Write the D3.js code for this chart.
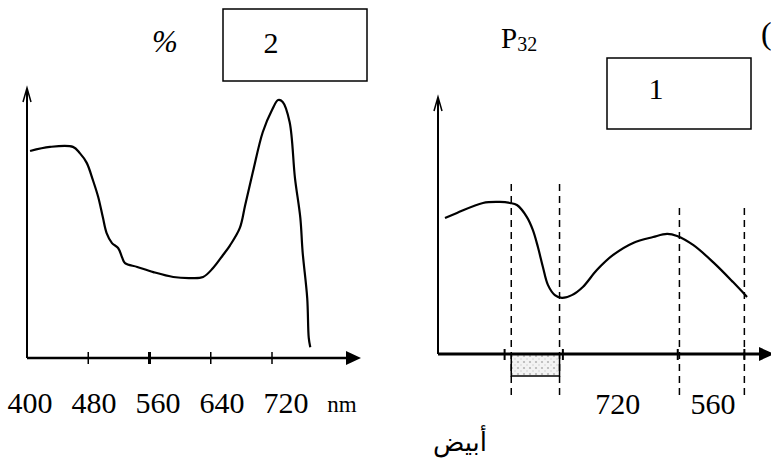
<!DOCTYPE html>
<html>
<head>
<meta charset="utf-8">
<script src="https://cdn.jsdelivr.net/npm/d3@7/dist/d3.min.js"></script>
<style>
body { margin: 0; background: white; }
</style>
</head>
<body>
<script>

var width = 771,
    height = 460;

// left chart (box 2) : percent vs wavelength
var waveNm  = [404, 430, 460, 469, 478, 486, 493, 499, 504, 511, 519, 524, 528, 544, 565,
               591, 613, 630, 643, 656, 665, 678, 685, 695, 708, 720, 728, 734, 743,
               750, 757, 760, 766, 768, 770];
var percent = [76.4, 77.9, 77.9, 75.6, 72, 65.7, 59.4, 52, 46.1, 42.4, 40.6, 37.3, 35, 33.6, 31.7,
               29.9, 29.5, 29.9, 33.2, 38, 41.5, 48, 56.5, 68.6, 83.4, 91.5, 95.2, 94.5, 87.1,
               66.4, 51.7, 39.1, 22.1, 7.4, 4];
var leftTicks  = [480, 560, 640, 720];
var leftLabels = ["400", "480", "560", "640", "720"];

// right chart (box 1)
var pos    = [2.1, 5.7, 13.5, 18.6, 21.6, 23.7, 26.7, 28.5, 30, 31.5, 33, 35.1, 37.2,
              40.2, 43.5, 47.7, 52.6, 58.6, 64.6, 68.8, 71.8, 76.6, 82.6, 88.6, 92.8];
var absorb = [53.1, 55.1, 59, 59.4, 59, 58.2, 53.5, 48.4, 41.8, 34, 27, 23, 21.9,
              23, 26.2, 32.8, 38.7, 43.4, 45.7, 46.9, 46.1, 42.6, 35.9, 28.1, 22.3];
var rightTicks     = [20, 37.5, 72, 92];
var dashPos        = [22, 36.5, 72.5, 92];
var whiteBand      = [22, 36.5];
var rightLabels    = ["720", "560"];
var rightLabelPos  = [54, 82.6];

var serif = "'Liberation Serif', 'Times New Roman', serif";

var svg = d3.select("body")
            .append("svg")
            .attr("width", width)
            .attr("height", height)
            .style("background", "white");

var defs = svg.append("defs");
var pat = defs.append("pattern")
              .attr("id", "dots")
              .attr("width", 6)
              .attr("height", 6)
              .attr("patternUnits", "userSpaceOnUse");
pat.append("rect").attr("width", 6).attr("height", 6).attr("fill", "#f3f3f3");
pat.append("circle").attr("cx", 2).attr("cy", 2).attr("r", 1.1).attr("fill", "#b5b5b5");
pat.append("circle").attr("cx", 5).attr("cy", 5).attr("r", 0.8).attr("fill", "#cfcfcf");

function upArrow(g, x, y) {
  g.append("path")
   .attr("d", "M" + (x - 4) + "," + (y + 14) + "L" + x + "," + y + "L" + (x + 4) + "," + (y + 14))
   .attr("fill", "none")
   .attr("stroke", "black")
   .attr("stroke-width", 1.5);
}

function rightArrow(g, x, y) {
  g.append("path")
   .attr("d", "M" + (x - 15) + "," + (y - 7) + "L" + x + "," + y + "L" + (x - 15) + "," + (y + 7) + "Z")
   .attr("fill", "black");
}

// ---------- left chart ----------
var xL = d3.scaleLinear().domain([400, 720]).range([27, 272]);
var yL = d3.scaleLinear().domain([0, 100]).range([358, 87]);
var labelL = d3.scalePoint().domain(leftLabels).range([30, 286]);

var left = svg.append("g");

left.append("line")
    .attr("x1", xL(400)).attr("x2", xL(400))
    .attr("y1", yL(0)).attr("y2", 90)
    .attr("stroke", "black").attr("stroke-width", 2);
upArrow(left, xL(400), 88);

left.append("line")
    .attr("x1", xL(400)).attr("x2", 350)
    .attr("y1", yL(0)).attr("y2", yL(0))
    .attr("stroke", "black").attr("stroke-width", 2.5);
rightArrow(left, 361, yL(0));

left.selectAll(".tick")
    .data(leftTicks)
    .enter()
    .append("line")
    .attr("x1", function (d) { return xL(d); })
    .attr("x2", function (d) { return xL(d); })
    .attr("y1", yL(0) - 6)
    .attr("y2", yL(0) + 6)
    .attr("stroke", "black")
    .attr("stroke-width", function (d) { return d == 560 ? 3 : 1.5; });

left.selectAll(".lab")
    .data(leftLabels)
    .enter()
    .append("text")
    .attr("x", function (d) { return labelL(d); })
    .attr("y", 413)
    .attr("text-anchor", "middle")
    .style("font-family", serif)
    .style("font-size", "30px")
    .text(function (d) { return d; });

left.append("text")
    .attr("x", 342).attr("y", 412)
    .attr("text-anchor", "middle")
    .style("font-family", serif)
    .style("font-size", "23px")
    .text("nm");

var lineL = d3.line()
              .x(function (d) { return xL(d[0]); })
              .y(function (d) { return yL(d[1]); })
              .curve(d3.curveCatmullRom);

left.append("path")
    .datum(d3.zip(waveNm, percent))
    .attr("d", lineL)
    .attr("fill", "none")
    .attr("stroke", "black")
    .attr("stroke-width", 2.2);

left.append("text")
    .attr("x", 165).attr("y", 52)
    .attr("text-anchor", "middle")
    .style("font-family", serif)
    .style("font-style", "italic")
    .style("font-size", "31px")
    .text("%");

left.append("rect")
    .attr("x", 223).attr("y", 9)
    .attr("width", 144).attr("height", 72)
    .attr("fill", "white")
    .attr("stroke", "black")
    .attr("stroke-width", 1.5);

left.append("text")
    .attr("x", 271).attr("y", 53)
    .attr("text-anchor", "middle")
    .style("font-family", serif)
    .style("font-size", "30px")
    .text("2");

// ---------- right chart ----------
var xR = d3.scaleLinear().domain([0, 100]).range([438, 771]);
var yR = d3.scaleLinear().domain([0, 100]).range([354, 98]);

var right = svg.append("g");

right.append("rect")
     .attr("x", xR(whiteBand[0]))
     .attr("y", yR(0))
     .attr("width", xR(whiteBand[1]) - xR(whiteBand[0]))
     .attr("height", 22)
     .attr("fill", "url(#dots)")
     .attr("stroke", "black")
     .attr("stroke-width", 1.5);

right.selectAll(".dash")
     .data(dashPos)
     .enter()
     .append("line")
     .attr("x1", function (d) { return xR(d); })
     .attr("x2", function (d) { return xR(d); })
     .attr("y1", function (d, i) { return i < 2 ? 184 : 208; })
     .attr("y2", 400)
     .attr("stroke", "black")
     .attr("stroke-width", 1.5)
     .attr("stroke-dasharray", "7,5");

right.append("line")
     .attr("x1", xR(0)).attr("x2", xR(0))
     .attr("y1", yR(0)).attr("y2", 100)
     .attr("stroke", "black").attr("stroke-width", 2);
upArrow(right, xR(0), 97);

right.append("line")
     .attr("x1", xR(0)).attr("x2", 762)
     .attr("y1", yR(0)).attr("y2", yR(0))
     .attr("stroke", "black").attr("stroke-width", 3);
rightArrow(right, 774, yR(0));

right.selectAll(".tick")
     .data(rightTicks)
     .enter()
     .append("line")
     .attr("x1", function (d) { return xR(d); })
     .attr("x2", function (d) { return xR(d); })
     .attr("y1", yR(0) - 5)
     .attr("y2", yR(0) + 6)
     .attr("stroke", "black")
     .attr("stroke-width", 2);

right.selectAll(".lab")
     .data(rightLabels)
     .enter()
     .append("text")
     .attr("x", function (d, i) { return xR(rightLabelPos[i]); })
     .attr("y", 414)
     .attr("text-anchor", "middle")
     .style("font-family", serif)
     .style("font-size", "30px")
     .text(function (d) { return d; });

var lineR = d3.line()
              .x(function (d) { return xR(d[0]); })
              .y(function (d) { return yR(d[1]); })
              .curve(d3.curveCatmullRom);

right.append("path")
     .datum(d3.zip(pos, absorb))
     .attr("d", lineR)
     .attr("fill", "none")
     .attr("stroke", "black")
     .attr("stroke-width", 2.2);

var pLabel = right.append("text")
                  .attr("x", 501).attr("y", 48)
                  .style("font-family", serif)
                  .style("font-size", "29px");
pLabel.append("tspan").text("P");
pLabel.append("tspan").attr("dy", 3).style("font-size", "20px").text("32");

right.append("rect")
     .attr("x", 607).attr("y", 58)
     .attr("width", 144).attr("height", 71)
     .attr("fill", "white")
     .attr("stroke", "black")
     .attr("stroke-width", 1.5);

right.append("text")
     .attr("x", 656).attr("y", 99)
     .attr("text-anchor", "middle")
     .style("font-family", serif)
     .style("font-size", "30px")
     .text("1");

right.append("text")
     .attr("x", 761).attr("y", 44)
     .style("font-family", serif)
     .style("font-size", "32px")
     .text("(");

right.append("text")
     .attr("x", 460).attr("y", 451)
     .attr("text-anchor", "middle")
     .style("font-family", "'DejaVu Sans', sans-serif")
     .style("font-size", "26px")
     .text("أبيض");

</script>
</body>
</html>
